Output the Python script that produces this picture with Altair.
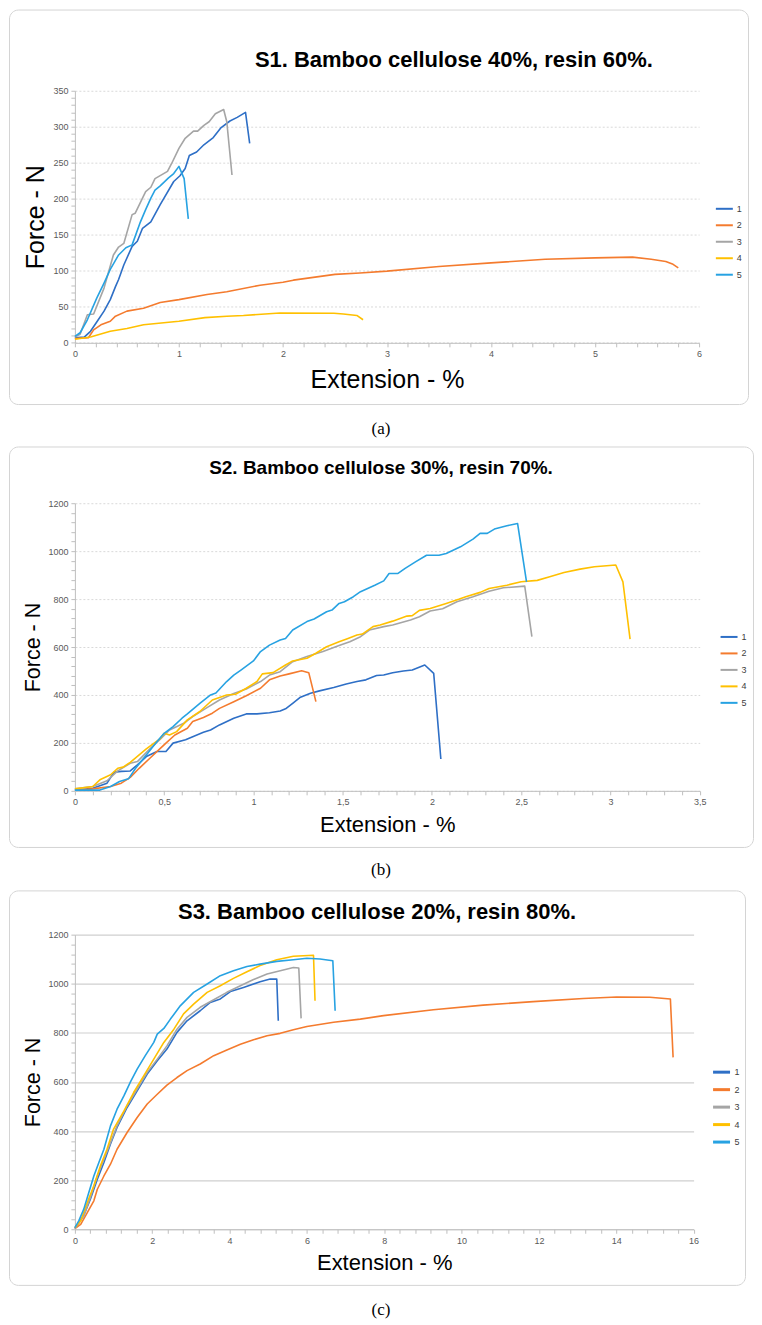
import altair as alt
import pandas as pd

# ---------------------------------------------------------------------------
# Tensile test curves (force vs. extension) for five specimens per composite.
# ---------------------------------------------------------------------------
SERIES = ["1", "2", "3", "4", "5"]
COLORS = ["#2E6FC6", "#F47B2E", "#A5A5A5", "#FFC000", "#27A2E2"]

TITLE_A = "S1. Bamboo cellulose 40%, resin 60%."
TITLE_B = "S2. Bamboo cellulose 30%, resin 70%."
TITLE_C = "S3. Bamboo cellulose 20%, resin 80%."
X_TITLE = "Extension - %"
Y_TITLE = "Force - N"

# ---- S1 (40 % cellulose) ---------------------------------------------------
A1_X = [0, 0.09, 0.15, 0.21, 0.28, 0.34, 0.39, 0.42, 0.47, 0.55, 0.60, 0.65, 0.73, 0.82,
        0.95, 1.01, 1.06, 1.10, 1.17, 1.24, 1.33, 1.40, 1.49, 1.56, 1.64, 1.68]
A1_Y = [7, 8, 16, 29, 44, 60, 78, 88, 108, 134, 141, 159, 168, 192,
        224, 232, 242, 260, 265, 275, 285, 298, 308, 313, 320, 277]
A2_X = [0, 0.13, 0.18, 0.25, 0.34, 0.39, 0.5, 0.66, 0.82, 1.0, 1.27, 1.46, 1.78, 2.0,
        2.1, 2.5, 2.74, 3.0, 3.5, 4.0, 4.52, 5.0, 5.36, 5.54, 5.68, 5.75, 5.8]
A2_Y = [6, 7, 18, 25, 30, 37, 44, 48, 56, 60, 67, 71, 80, 84,
        87, 95, 97, 99.5, 106, 111, 116, 118, 119, 116, 113, 109, 104]
A3_X = [0, 0.05, 0.12, 0.18, 0.28, 0.37, 0.42, 0.47, 0.55, 0.58, 0.68, 0.73, 0.77, 0.89,
        0.93, 1.0, 1.06, 1.14, 1.18, 1.24, 1.29, 1.35, 1.43, 1.46, 1.51]
A3_Y = [8, 12, 39, 40, 76, 122, 133, 138, 178, 180, 210, 216, 228, 238,
        249, 270, 284, 294, 294, 302, 307, 318, 324, 307, 233]
A4_X = [0, 0.15, 0.34, 0.5, 0.66, 1.0, 1.25, 1.46, 1.62, 1.97, 2.49, 2.58, 2.71, 2.77]
A4_Y = [5, 8, 16, 20, 25, 30, 35, 37, 38, 41.5, 41, 40, 38, 32]
A5_X = [0, 0.05, 0.12, 0.21, 0.28, 0.34, 0.42, 0.49, 0.55, 0.63, 0.68, 0.73, 0.77, 0.82,
        0.90, 0.95, 1.0, 1.05, 1.09]
A5_Y = [9, 14, 32, 62, 83, 102, 122, 132, 136, 168, 185, 201, 212, 218,
        229, 235, 245, 228, 172]

# ---- S2 (30 % cellulose) ---------------------------------------------------
B1_X = [0, 0.1, 0.18, 0.22, 0.26, 0.31, 0.35, 0.4, 0.46, 0.51, 0.55, 0.62, 0.66, 0.72,
        0.76, 0.81, 0.89, 0.96, 1.02, 1.09, 1.15, 1.18, 1.22, 1.26, 1.32, 1.37, 1.45,
        1.52, 1.58, 1.63, 1.69, 1.73, 1.78, 1.84, 1.89, 1.96, 2.01, 2.05]
B1_Y = [3, 11, 32, 78, 81, 83, 108, 143, 164, 164, 199, 213, 226, 244,
        254, 275, 303, 321, 321, 326, 333, 342, 365, 389, 407, 417, 431,
        446, 456, 463, 481, 483, 493, 500, 504, 525, 490, 133]
B2_X = [0, 0.1, 0.2, 0.26, 0.31, 0.36, 0.42, 0.48, 0.51, 0.56, 0.63, 0.66, 0.72, 0.77,
        0.81, 0.89, 0.96, 1.04, 1.09, 1.15, 1.2, 1.27, 1.31, 1.35]
B2_Y = [3, 8, 18, 32, 56, 94, 136, 178, 199, 233, 261, 289, 306, 324,
        344, 372, 397, 428, 463, 479, 488, 501, 493, 372]
B3_X = [0, 0.1, 0.18, 0.24, 0.31, 0.35, 0.42, 0.48, 0.53, 0.61, 0.66, 0.74, 0.81, 0.89,
        0.96, 1.04, 1.09, 1.15, 1.22, 1.3, 1.39, 1.48, 1.54, 1.6, 1.65, 1.73, 1.78,
        1.88, 1.93, 1.99, 2.06, 2.14, 2.23, 2.32, 2.4, 2.52, 2.56]
B3_Y = [8, 18, 42, 83, 115, 122, 175, 217, 254, 282, 310, 347, 379, 406,
        425, 456, 483, 497, 539, 560, 581, 606, 622, 643, 671, 685, 692,
        713, 726, 750, 760, 789, 810, 833, 847, 854, 643]
B4_X = [0, 0.1, 0.14, 0.2, 0.24, 0.27, 0.31, 0.4, 0.48, 0.5, 0.53, 0.57, 0.63, 0.7,
        0.77, 0.85, 0.9, 0.96, 1.02, 1.05, 1.11, 1.18, 1.22, 1.3, 1.35, 1.41, 1.48,
        1.53, 1.58, 1.61, 1.67, 1.71, 1.78, 1.86, 1.89, 1.93, 1.99, 2.08, 2.15, 2.19,
        2.27, 2.32, 2.42, 2.5, 2.59, 2.66, 2.74, 2.83, 2.91, 3.03, 3.07, 3.11]
B4_Y = [8, 18, 46, 67, 94, 99, 119, 175, 219, 240, 233, 247, 296, 331,
        379, 400, 403, 428, 456, 488, 493, 525, 542, 553, 574, 601, 622,
        636, 650, 654, 685, 692, 708, 729, 731, 753, 761, 782, 799, 810,
        828, 844, 858, 872, 878, 893, 911, 925, 935, 942, 872, 633]
B5_X = [0, 0.14, 0.2, 0.25, 0.3, 0.34, 0.4, 0.46, 0.5, 0.55, 0.6, 0.63, 0.7, 0.76,
        0.79, 0.85, 0.89, 0.93, 1.0, 1.04, 1.09, 1.15, 1.18, 1.22, 1.3, 1.34, 1.41,
        1.44, 1.48, 1.51, 1.56, 1.6, 1.68, 1.73, 1.76, 1.81, 1.85, 1.91, 1.97, 2.04,
        2.08, 2.16, 2.23, 2.27, 2.31, 2.35, 2.42, 2.48, 2.53]
B5_Y = [3, 3, 18, 39, 50, 94, 150, 206, 240, 268, 303, 321, 365, 400,
        408, 456, 483, 504, 542, 581, 608, 629, 636, 671, 706, 717, 747,
        754, 782, 789, 810, 831, 858, 876, 907, 907, 928, 956, 983, 983,
        990, 1018, 1050, 1074, 1074, 1092, 1106, 1115, 872]

# ---- S3 (20 % cellulose) ---------------------------------------------------
C1_X = [0, 0.23, 0.4, 0.58, 0.75, 0.92, 1.09, 1.35, 1.61, 1.87, 2.13, 2.38, 2.64, 2.9,
        3.24, 3.5, 3.76, 4.02, 4.36, 4.79, 5.05, 5.22, 5.26]
C1_Y = [3, 57, 122, 204, 272, 347, 415, 496, 564, 632, 686, 734, 802, 849,
        890, 924, 938, 968, 985, 1008, 1019, 1019, 849]
C2_X = [0, 0.15, 0.32, 0.49, 0.58, 0.75, 0.92, 1.09, 1.35, 1.61, 1.87, 2.13, 2.38, 2.64,
        2.9, 3.24, 3.59, 3.93, 4.28, 4.62, 4.97, 5.31, 5.65, 6.0, 6.69, 7.38, 7.98,
        9.27, 10.56, 11.85, 13.15, 14.01, 14.87, 15.4, 15.47]
C2_Y = [3, 20, 68, 116, 163, 217, 265, 326, 394, 455, 510, 550, 587, 618,
        646, 673, 707, 730, 754, 772, 788, 798, 813, 826, 843, 856, 870,
        894, 913, 927, 940, 946, 945, 938, 700]
C3_X = [0, 0.23, 0.4, 0.58, 0.75, 0.92, 1.09, 1.35, 1.61, 1.87, 2.13, 2.38, 2.64, 2.9,
        3.24, 3.59, 3.93, 4.28, 4.62, 4.97, 5.31, 5.65, 5.79, 5.85]
C3_Y = [3, 54, 129, 217, 285, 353, 421, 503, 571, 639, 693, 747, 815, 863,
        904, 935, 965, 992, 1017, 1040, 1053, 1066, 1064, 859]
C4_X = [0, 0.15, 0.32, 0.49, 0.66, 0.83, 1.0, 1.27, 1.52, 1.78, 2.04, 2.3, 2.56, 2.81,
        3.07, 3.42, 3.76, 4.1, 4.45, 4.79, 5.22, 5.65, 6.17, 6.21]
C4_Y = [7, 34, 109, 177, 258, 326, 408, 482, 557, 625, 693, 761, 815, 877,
        917, 965, 992, 1022, 1049, 1074, 1098, 1112, 1116, 931]
C5_X = [0, 0.1, 0.23, 0.36, 0.49, 0.62, 0.75, 0.92, 1.09, 1.27, 1.44, 1.61, 1.82, 2.04,
        2.13, 2.3, 2.47, 2.73, 3.07, 3.42, 3.76, 4.1, 4.45, 4.79, 5.22, 5.65, 6.0,
        6.34, 6.67, 6.73]
C5_Y = [7, 34, 82, 150, 217, 272, 326, 421, 489, 544, 601, 652, 707, 761,
        795, 818, 856, 911, 965, 999, 1033, 1053, 1070, 1080, 1091, 1098, 1104,
        1101, 1094, 890]

SANS = "Liberation Sans, Arial, sans-serif"
TICK_FONT = "Liberation Sans Narrow, Liberation Sans, Arial, sans-serif"
SERIF = "Liberation Serif, Times New Roman, serif"
PAGE_W = 762


def long_table(xs_list, ys_list):
    rows = []
    for name, xs, ys in zip(SERIES, xs_list, ys_list):
        for i, (x, y) in enumerate(zip(xs, ys)):
            rows.append({"s": name, "i": i, "x": x, "y": y})
    return pd.DataFrame(rows)


def tick_values(stop, step):
    n = int(round(stop / step))
    return [round(k * step, 6) for k in range(n + 1)]


def major_test(step):
    return f"abs(datum.value / {step} - round(datum.value / {step})) < 1e-6"


def one_row(**kw):
    return alt.Data(values=[kw])


def panel(df, title, caption, c):
    w, h = c["w"], c["h"]
    left, top = c["left"], c["top"]
    xmaj = major_test(c["x_major"])
    ymaj = major_test(c["y_major"])
    if c["comma"]:
        x_label = f"({xmaj}) ? replace(toString(datum.value), '.', ',') : ''"
    else:
        x_label = f"({xmaj}) ? toString(datum.value) : ''"
    y_label = f"({ymaj}) ? toString(datum.value) : ''"

    common = dict(
        domainColor="#bfbfbf", tickColor="#bfbfbf", tickSize=4, tickWidth=1,
        labelFont=TICK_FONT, labelFontSize=9, labelColor="#595959",
        labelFlush=False, labelOverlap=False, labelPadding=3,
        titleFont=SANS, titleFontWeight="normal", titleColor="#000000",
        titleAlign="center", titleBaseline="middle",
    )
    x_axis = alt.Axis(
        values=tick_values(c["x_max"], c["x_minor"]), labelExpr=x_label, grid=False,
        title=X_TITLE, titleX=w / 2, titleY=c["xt_y"], titleFontSize=c["xt_size"],
        **common,
    )
    grid_style = dict(gridColor=c["grid_color"], gridWidth=c["grid_width"])
    if c["grid_dash"]:
        grid_style["gridDash"] = c["grid_dash"]
    y_axis = alt.Axis(
        values=tick_values(c["y_max"], c["y_minor"]), labelExpr=y_label, grid=True,
        gridOpacity={"condition": {"test": ymaj, "value": 1}, "value": 0},
        title=Y_TITLE, titleX=c["yt_x"], titleY=h / 2, titleAngle=270,
        titleFontSize=c["yt_size"],
        **grid_style, **common,
    )

    lines = alt.Chart(df).mark_line(strokeWidth=1.6, strokeJoin="round").encode(
        x=alt.X("x:Q", scale=alt.Scale(domain=[0, c["x_max"]], nice=False, zero=True),
                axis=x_axis),
        y=alt.Y("y:Q", scale=alt.Scale(domain=[0, c["y_max"]], nice=False, zero=True),
                axis=y_axis),
        color=alt.Color(
            "s:N",
            scale=alt.Scale(domain=SERIES, range=COLORS),
            legend=alt.Legend(
                orient="none", legendX=c["lg_x"], legendY=c["lg_y"], title=None,
                symbolType="stroke", symbolSize=289, symbolStrokeWidth=c["lg_sw"],
                labelFont=TICK_FONT, labelFontSize=9, labelColor="#404040",
                labelOffset=3, rowPadding=1.5, padding=0,
            ),
        ),
        order="i:Q",
    )

    # page band reserved for this panel (keeps the stacked layout exact)
    band = alt.Chart(one_row()).mark_rect(opacity=0).encode(
        x=alt.value(-left), x2=alt.value(PAGE_W - left),
        y=alt.value(c["band"][0] - top), y2=alt.value(c["band"][1] - top),
    )
    # rounded frame around the chart (outline only, so axes stay visible)
    frame = alt.Chart(one_row()).mark_rect(
        fill="white", fillOpacity=0, stroke="#d4d4d4", strokeWidth=1, cornerRadius=9
    ).encode(
        x=alt.value(c["box_x"][0] - left), x2=alt.value(c["box_x"][1] - left),
        y=alt.value(c["box_y"][0] - top), y2=alt.value(c["box_y"][1] - top),
    )
    head = alt.Chart(one_row(t=title)).mark_text(
        font=SANS, fontWeight="bold", fontSize=c["title_size"], color="#000000",
        align="center", baseline="middle",
    ).encode(x=alt.value(c["title_xy"][0] - left), y=alt.value(c["title_xy"][1] - top),
             text="t:N")
    cap = alt.Chart(one_row(t=caption)).mark_text(
        font=SERIF, fontSize=17, color="#000000", align="center", baseline="middle",
    ).encode(x=alt.value(381 - left), y=alt.value(c["cap_y"] - top), text="t:N")

    return alt.layer(band, frame, lines, head, cap).properties(width=w, height=h)


cfg_a = dict(w=625, h=252.4, left=74.5, top=89.3, x_max=6, x_major=1, x_minor=0.2,
             y_max=350, y_major=50, y_minor=10, comma=False,
             xt_y=36.6, xt_size=25, yt_x=-39.5, yt_size=25,
             grid_color="#d9d9d9", grid_width=1, grid_dash=[2, 2],
             lg_x=640.8, lg_y=208 - 10 - 89.3, lg_sw=2,
             band=(0, 444), box_x=(9, 749), box_y=(8.5, 403.5),
             title_xy=(454, 58.5), title_size=22, cap_y=428)
cfg_b = dict(w=625.6, h=288, left=74.5, top=501.3, x_max=3.5, x_major=0.5, x_minor=0.1,
             y_max=1200, y_major=200, y_minor=40, comma=True,
             xt_y=34, xt_size=22, yt_x=-41.5, yt_size=21.5,
             grid_color="#d9d9d9", grid_width=1, grid_dash=[2, 2],
             lg_x=645.5, lg_y=635.7 - 10 - 501.3, lg_sw=2,
             band=(444, 886), box_x=(9, 754), box_y=(445, 846),
             title_xy=(381, 466), title_size=19, cap_y=869)
cfg_c = dict(w=619.5, h=295, left=74.5, top=932.3, x_max=16, x_major=2, x_minor=0.4,
             y_max=1200, y_major=200, y_minor=40, comma=False,
             xt_y=33.4, xt_size=22, yt_x=-41.5, yt_size=21.5,
             grid_color="#cfcfcf", grid_width=1.2, grid_dash=None,
             lg_x=637.5, lg_y=1070 - 10 - 932.3, lg_sw=3,
             band=(886, 1325), box_x=(9, 746), box_y=(888.5, 1283.5),
             title_xy=(377, 909.3), title_size=22, cap_y=1308)

df_a = long_table([A1_X, A2_X, A3_X, A4_X, A5_X], [A1_Y, A2_Y, A3_Y, A4_Y, A5_Y])
df_b = long_table([B1_X, B2_X, B3_X, B4_X, B5_X], [B1_Y, B2_Y, B3_Y, B4_Y, B5_Y])
df_c = long_table([C1_X, C2_X, C3_X, C4_X, C5_X], [C1_Y, C2_Y, C3_Y, C4_Y, C5_Y])

chart = (
    alt.vconcat(
        panel(df_a, TITLE_A, "(a)", cfg_a),
        panel(df_b, TITLE_B, "(b)", cfg_b),
        panel(df_c, TITLE_C, "(c)", cfg_c),
        spacing=0,
    )
    .resolve_scale(x="independent", y="independent", color="independent")
    .resolve_legend(color="independent")
    .properties(padding=0, background="white")
    .configure_view(stroke=None)
)

chart.save("out.html", embed_options={"renderer": "svg", "actions": False})
